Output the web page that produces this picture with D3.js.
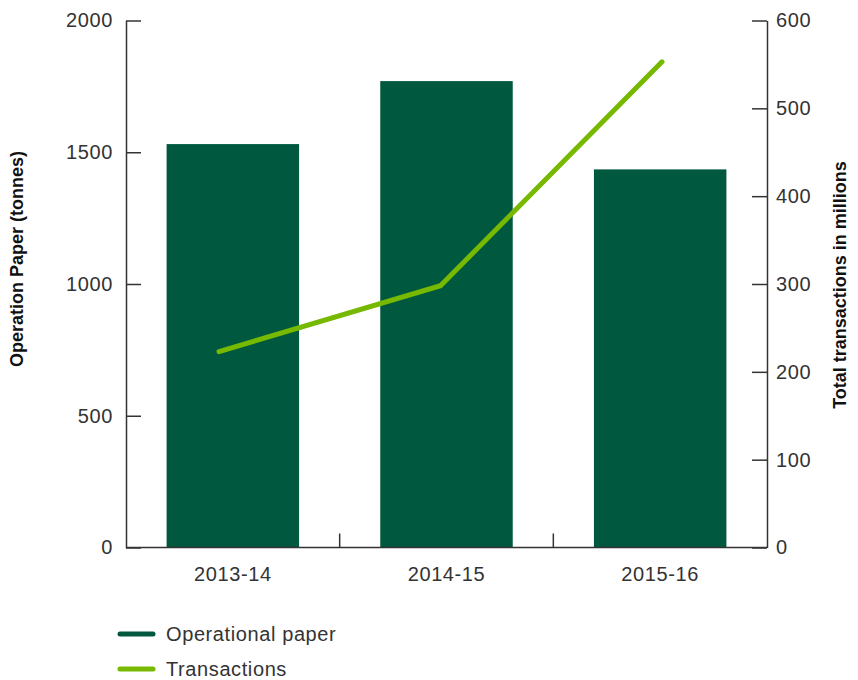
<!DOCTYPE html>
<html>
<head>
<meta charset="utf-8">
<script src="https://cdn.jsdelivr.net/npm/d3@7"></script>
<style>
  body { margin: 0; background: #fff; }
  svg text { font-family: "Liberation Sans", Arial, sans-serif; }
</style>
</head>
<body>
<div id="chart"></div>
<script>
const years = ["2013-14", "2014-15", "2015-16"];
const paperTonnes = [1531, 1770, 1435];
const transactionsM = [223, 298, 553];
const leftTicks = [0, 500, 1000, 1500, 2000];
const rightTicks = [0, 100, 200, 300, 400, 500, 600];
const legendItems = ["Operational paper", "Transactions"];

const barColor = "#00583f";
const lineColor = "#76b900";
const axisColor = "#333";

const width = 858;
const height = 680;
const margin = { top: 20.5, right: 91, bottom: 132.5, left: 126 };
const innerW = width - margin.left - margin.right;
const innerH = height - margin.top - margin.bottom;

const svg = d3.select("#chart")
  .append("svg")
  .attr("width", width)
  .attr("height", height);

const chart = svg.append("g")
  .attr("transform", `translate(${margin.left},${margin.top})`);

// Scales
const xBand = d3.scaleBand()
  .domain(years)
  .range([0, innerW])
  .paddingInner(0.38)
  .paddingOuter(0.19);

const xPoint = d3.scalePoint()
  .domain(years)
  .range([93, innerW - 105]);

const yLeft = d3.scaleLinear().domain([0, 2000]).range([innerH, 0]);
const yRight = d3.scaleLinear().domain([0, 600]).range([innerH, 0]);

// Bars
chart.selectAll("rect.bar")
  .data(years)
  .join("rect")
  .attr("class", "bar")
  .attr("x", (d) => xBand(d))
  .attr("width", xBand.bandwidth())
  .attr("y", (d, i) => yLeft(paperTonnes[i]))
  .attr("height", (d, i) => innerH - yLeft(paperTonnes[i]))
  .attr("fill", barColor);

// Transactions line
const line = d3.line()
  .x((d) => xPoint(d.year))
  .y((d) => yRight(d.value));

chart.append("path")
  .datum(years.map((y, i) => ({ year: y, value: transactionsM[i] })))
  .attr("d", line)
  .attr("fill", "none")
  .attr("stroke", lineColor)
  .attr("stroke-width", 5)
  .attr("stroke-linecap", "round")
  .attr("stroke-linejoin", "miter");

// Axes
function styleAxis(g) {
  g.select(".domain").attr("stroke", axisColor).attr("stroke-width", 1.5);
  g.selectAll(".tick line").attr("stroke", axisColor).attr("stroke-width", 1.5);
  g.selectAll(".tick text")
    .attr("fill", axisColor)
    .attr("font-size", "20px")
    .attr("letter-spacing", "0.6px");
}

const leftAxis = chart.append("g")
  .call(d3.axisLeft(yLeft).tickValues(leftTicks).tickFormat(d3.format("d"))
    .tickSizeInner(-15).tickSizeOuter(0))
  .call(styleAxis);
leftAxis.selectAll(".tick text").attr("x", -13);

const rightAxis = chart.append("g")
  .attr("transform", `translate(${innerW},0)`)
  .call(d3.axisRight(yRight).tickValues(rightTicks).tickFormat(d3.format("d"))
    .tickSizeInner(-15).tickSizeOuter(0))
  .call(styleAxis);
rightAxis.selectAll(".tick text").attr("x", 9);

// Bottom axis: ticks sit on band boundaries
const bottomAxis = chart.append("g")
  .attr("transform", `translate(0,${innerH})`)
  .call(d3.axisBottom(xBand).tickSize(0).tickPadding(19))
  .call(styleAxis);
bottomAxis.select(".domain").attr("d", `M0,0H${innerW}`);

chart.append("g")
  .selectAll("line")
  .data(years.slice(1))
  .join("line")
  .attr("x1", (d) => xBand(d) - xBand.step() * xBand.paddingInner() / 2)
  .attr("x2", (d) => xBand(d) - xBand.step() * xBand.paddingInner() / 2)
  .attr("y1", innerH)
  .attr("y2", innerH - 14)
  .attr("stroke", axisColor)
  .attr("stroke-width", 1.5);

// Axis titles
svg.append("text")
  .attr("transform", `translate(23,${margin.top + innerH / 2 - 25}) rotate(-90)`)
  .attr("text-anchor", "middle")
  .attr("font-size", "18px")
  .attr("font-weight", "bold")
  .attr("fill", "#111")
  .text("Operation Paper (tonnes)");

svg.append("text")
  .attr("transform", `translate(846,${margin.top + innerH / 2 + 1}) rotate(-90)`)
  .attr("text-anchor", "middle")
  .attr("font-size", "18px")
  .attr("font-weight", "bold")
  .attr("fill", "#111")
  .text("Total transactions in millions");

// Legend
const legend = svg.append("g").attr("transform", "translate(120,634)");
const legendColors = [barColor, lineColor];
const items = legend.selectAll("g")
  .data(legendItems)
  .join("g")
  .attr("transform", (d, i) => `translate(0,${i * 35})`);

items.append("line")
  .attr("x1", 0)
  .attr("x2", 33)
  .attr("stroke", (d, i) => legendColors[i])
  .attr("stroke-width", 5)
  .attr("stroke-linecap", "round");

items.append("text")
  .attr("x", 46)
  .attr("dy", "0.35em")
  .attr("font-size", "20px")
  .attr("letter-spacing", "0.6px")
  .attr("fill", axisColor)
  .text((d) => d);
</script>
</body>
</html>
